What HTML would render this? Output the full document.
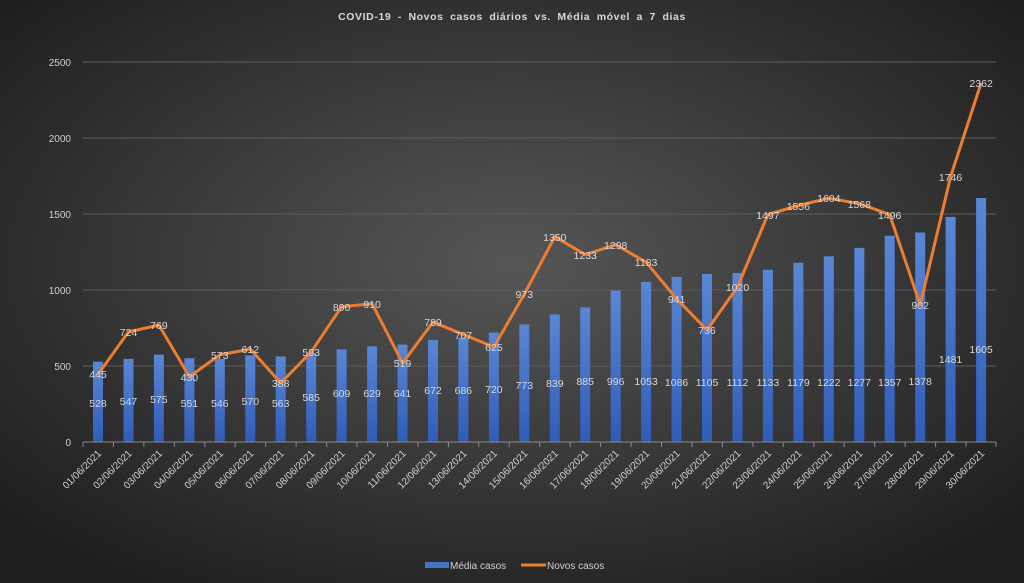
<!DOCTYPE html>
<html><head><meta charset="utf-8"><style>
html,body{margin:0;padding:0;width:1024px;height:583px;overflow:hidden}
svg{display:block;font-family:"Liberation Sans",sans-serif}
</style></head><body>
<svg width="1024" height="583" viewBox="0 0 1024 583" xmlns="http://www.w3.org/2000/svg">
<defs>
<radialGradient id="bg" cx="50%" cy="45%" r="65%">
<stop offset="0" stop-color="#565656"/><stop offset="1" stop-color="#1f1f1f"/>
</radialGradient>
<linearGradient id="bar" x1="0" y1="0" x2="0" y2="1">
<stop offset="0" stop-color="#5a86d6"/><stop offset="1" stop-color="#2f5cb8"/>
</linearGradient>
</defs>
<rect width="1024" height="583" fill="url(#bg)"/>
<text x="512" y="20" fill="#d8d8d8" font-size="10.5" font-weight="bold" text-anchor="middle" letter-spacing="0.6" word-spacing="3">COVID-19  - Novos casos diários vs. Média móvel a 7 dias</text>
<g stroke="#5e5e5e" stroke-width="1">
<line x1="83" y1="62" x2="996" y2="62"/><line x1="83" y1="138" x2="996" y2="138"/><line x1="83" y1="214" x2="996" y2="214"/><line x1="83" y1="290" x2="996" y2="290"/><line x1="83" y1="366" x2="996" y2="366"/>
</g>
<g fill="#d0d0d0" font-size="10" text-anchor="end">
<text x="71" y="66">2500</text><text x="71" y="142">2000</text><text x="71" y="218">1500</text><text x="71" y="294">1000</text><text x="71" y="370">500</text><text x="71" y="446">0</text>
</g>
<g fill="url(#bar)">
<rect x="93" y="361.7" width="10" height="80.3"/><rect x="123.5" y="358.9" width="10" height="83.1"/><rect x="153.9" y="354.6" width="10" height="87.4"/><rect x="184.4" y="358.2" width="10" height="83.8"/><rect x="214.8" y="359" width="10" height="83"/><rect x="245.3" y="355.4" width="10" height="86.6"/><rect x="275.7" y="356.4" width="10" height="85.6"/><rect x="306.2" y="353.1" width="10" height="88.9"/><rect x="336.6" y="349.4" width="10" height="92.6"/><rect x="367.1" y="346.4" width="10" height="95.6"/><rect x="397.5" y="344.6" width="10" height="97.4"/><rect x="428" y="339.9" width="10" height="102.1"/><rect x="458.4" y="337.7" width="10" height="104.3"/><rect x="488.9" y="332.6" width="10" height="109.4"/><rect x="519.3" y="324.5" width="10" height="117.5"/><rect x="549.8" y="314.5" width="10" height="127.5"/><rect x="580.2" y="307.5" width="10" height="134.5"/><rect x="610.7" y="290.6" width="10" height="151.4"/><rect x="641.1" y="281.9" width="10" height="160.1"/><rect x="671.6" y="276.9" width="10" height="165.1"/><rect x="702" y="274" width="10" height="168"/><rect x="732.5" y="273" width="10" height="169"/><rect x="762.9" y="269.8" width="10" height="172.2"/><rect x="793.4" y="262.8" width="10" height="179.2"/><rect x="823.8" y="256.3" width="10" height="185.7"/><rect x="854.3" y="247.9" width="10" height="194.1"/><rect x="884.7" y="235.7" width="10" height="206.3"/><rect x="915.2" y="232.5" width="10" height="209.5"/><rect x="945.6" y="216.9" width="10" height="225.1"/><rect x="976.1" y="198" width="10" height="244"/>
</g>
<line x1="83" y1="442" x2="996" y2="442" stroke="#8a8a8a"/>
<g stroke="#8a8a8a">
<line x1="83" y1="442" x2="83" y2="447"/><line x1="113.4" y1="442" x2="113.4" y2="447"/><line x1="143.9" y1="442" x2="143.9" y2="447"/><line x1="174.3" y1="442" x2="174.3" y2="447"/><line x1="204.8" y1="442" x2="204.8" y2="447"/><line x1="235.2" y1="442" x2="235.2" y2="447"/><line x1="265.7" y1="442" x2="265.7" y2="447"/><line x1="296.1" y1="442" x2="296.1" y2="447"/><line x1="326.6" y1="442" x2="326.6" y2="447"/><line x1="357" y1="442" x2="357" y2="447"/><line x1="387.5" y1="442" x2="387.5" y2="447"/><line x1="417.9" y1="442" x2="417.9" y2="447"/><line x1="448.4" y1="442" x2="448.4" y2="447"/><line x1="478.8" y1="442" x2="478.8" y2="447"/><line x1="509.3" y1="442" x2="509.3" y2="447"/><line x1="539.7" y1="442" x2="539.7" y2="447"/><line x1="570.2" y1="442" x2="570.2" y2="447"/><line x1="600.6" y1="442" x2="600.6" y2="447"/><line x1="631.1" y1="442" x2="631.1" y2="447"/><line x1="661.5" y1="442" x2="661.5" y2="447"/><line x1="692" y1="442" x2="692" y2="447"/><line x1="722.4" y1="442" x2="722.4" y2="447"/><line x1="752.9" y1="442" x2="752.9" y2="447"/><line x1="783.3" y1="442" x2="783.3" y2="447"/><line x1="813.8" y1="442" x2="813.8" y2="447"/><line x1="844.2" y1="442" x2="844.2" y2="447"/><line x1="874.7" y1="442" x2="874.7" y2="447"/><line x1="905.1" y1="442" x2="905.1" y2="447"/><line x1="935.6" y1="442" x2="935.6" y2="447"/><line x1="966" y1="442" x2="966" y2="447"/><line x1="996" y1="442" x2="996" y2="447"/>
</g>
<polyline fill="none" stroke="#ed7d31" stroke-width="3" stroke-linejoin="round" points="98,374.4 128.5,331.9 158.9,325.1 189.4,376.6 219.8,354.9 250.3,349 280.7,383 311.2,351.9 341.6,306.7 372.1,303.7 402.5,363.1 433,322.1 463.4,334.5 493.9,347 524.3,294.1 554.8,236.8 585.2,254.6 615.7,244.7 646.1,262.2 676.6,298.8 707,330.1 737.5,287 767.9,214.5 798.4,205.5 828.8,198.2 859.3,203.7 889.7,214.6 920.2,304.9 950.6,176.6 981.1,83"/>
<g fill="#d8d8d8" font-size="10.5" text-anchor="middle">
<text x="98" y="407">528</text><text x="128.5" y="405">547</text><text x="158.9" y="403">575</text><text x="189.4" y="407">551</text><text x="219.8" y="407">546</text><text x="250.3" y="405">570</text><text x="280.7" y="407">563</text><text x="311.2" y="401">585</text><text x="341.6" y="397">609</text><text x="372.1" y="397">629</text><text x="402.5" y="397">641</text><text x="433" y="394">672</text><text x="463.4" y="394">686</text><text x="493.9" y="393">720</text><text x="524.3" y="389">773</text><text x="554.8" y="387">839</text><text x="585.2" y="385">885</text><text x="615.7" y="385">996</text><text x="646.1" y="385">1053</text><text x="676.6" y="386">1086</text><text x="707" y="386">1105</text><text x="737.5" y="386">1112</text><text x="767.9" y="386">1133</text><text x="798.4" y="386">1179</text><text x="828.8" y="386">1222</text><text x="859.3" y="386">1277</text><text x="889.7" y="386">1357</text><text x="920.2" y="385">1378</text><text x="950.6" y="363">1481</text><text x="981.1" y="353">1605</text>
</g>
<g fill="#d8d8d8" font-size="10.5" text-anchor="middle">
<text x="98" y="378">445</text><text x="128.5" y="336">724</text><text x="158.9" y="329">769</text><text x="189.4" y="381">430</text><text x="219.8" y="359">573</text><text x="250.3" y="353">612</text><text x="280.7" y="387">388</text><text x="311.2" y="356">593</text><text x="341.6" y="311">890</text><text x="372.1" y="308">910</text><text x="402.5" y="367">519</text><text x="433" y="326">789</text><text x="463.4" y="339">707</text><text x="493.9" y="351">625</text><text x="524.3" y="298">973</text><text x="554.8" y="241">1350</text><text x="585.2" y="259">1233</text><text x="615.7" y="249">1298</text><text x="646.1" y="266">1183</text><text x="676.6" y="303">941</text><text x="707" y="334">736</text><text x="737.5" y="291">1020</text><text x="767.9" y="219">1497</text><text x="798.4" y="210">1556</text><text x="828.8" y="202">1604</text><text x="859.3" y="208">1568</text><text x="889.7" y="219">1496</text><text x="920.2" y="309">902</text><text x="950.6" y="181">1746</text><text x="981.1" y="87">2362</text>
</g>
<g fill="#d0d0d0" font-size="10" text-anchor="end">
<text transform="translate(102,454) rotate(-45)">01/06/2021</text><text transform="translate(132.5,454) rotate(-45)">02/06/2021</text><text transform="translate(162.9,454) rotate(-45)">03/06/2021</text><text transform="translate(193.4,454) rotate(-45)">04/06/2021</text><text transform="translate(223.8,454) rotate(-45)">05/06/2021</text><text transform="translate(254.3,454) rotate(-45)">06/06/2021</text><text transform="translate(284.7,454) rotate(-45)">07/06/2021</text><text transform="translate(315.2,454) rotate(-45)">08/06/2021</text><text transform="translate(345.6,454) rotate(-45)">09/06/2021</text><text transform="translate(376.1,454) rotate(-45)">10/06/2021</text><text transform="translate(406.5,454) rotate(-45)">11/06/2021</text><text transform="translate(437,454) rotate(-45)">12/06/2021</text><text transform="translate(467.4,454) rotate(-45)">13/06/2021</text><text transform="translate(497.9,454) rotate(-45)">14/06/2021</text><text transform="translate(528.3,454) rotate(-45)">15/06/2021</text><text transform="translate(558.8,454) rotate(-45)">16/06/2021</text><text transform="translate(589.2,454) rotate(-45)">17/06/2021</text><text transform="translate(619.7,454) rotate(-45)">18/06/2021</text><text transform="translate(650.1,454) rotate(-45)">19/06/2021</text><text transform="translate(680.6,454) rotate(-45)">20/06/2021</text><text transform="translate(711,454) rotate(-45)">21/06/2021</text><text transform="translate(741.5,454) rotate(-45)">22/06/2021</text><text transform="translate(771.9,454) rotate(-45)">23/06/2021</text><text transform="translate(802.4,454) rotate(-45)">24/06/2021</text><text transform="translate(832.8,454) rotate(-45)">25/06/2021</text><text transform="translate(863.3,454) rotate(-45)">26/06/2021</text><text transform="translate(893.7,454) rotate(-45)">27/06/2021</text><text transform="translate(924.2,454) rotate(-45)">28/06/2021</text><text transform="translate(954.6,454) rotate(-45)">29/06/2021</text><text transform="translate(985.1,454) rotate(-45)">30/06/2021</text>
</g>
<rect x="425" y="562" width="24" height="6" fill="#4472c4"/>
<text x="450" y="569" fill="#d0d0d0" font-size="10">Média casos</text>
<line x1="521" y1="565" x2="546" y2="565" stroke="#ed7d31" stroke-width="3"/>
<text x="547" y="569" fill="#d0d0d0" font-size="10">Novos casos</text>
</svg>
</body></html>
